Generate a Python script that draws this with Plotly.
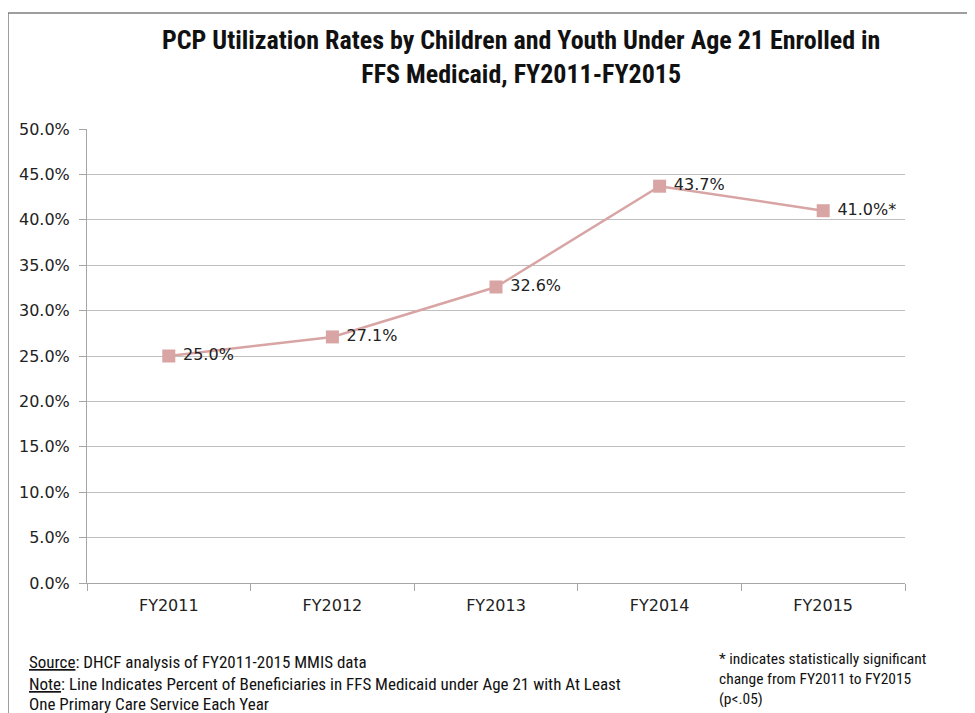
import plotly.graph_objects as go

categories = ["FY2011", "FY2012", "FY2013", "FY2014", "FY2015"]
rates = [25.0, 27.1, 32.6, 43.7, 41.0]
label_texts = ["25.0%", "27.1%", "32.6%", "43.7%", "41.0%*"]
y_ticks = [0, 5, 10, 15, 20, 25, 30, 35, 40, 45, 50]
y_tick_labels = [f"{v:.1f}%" for v in y_ticks]

OFF = 8  # page body offset
W, H = 975 - OFF, 713 - OFF
L, R, T, B = 87 - OFF, 905 - OFF, 129 - OFF, 583 - OFF

def px(x):
    return (x - OFF - L) / (R - L)

def py(y):
    return (B - (y - OFF)) / (B - T)

line_color = "#D8A4A4"
tick_font = dict(family="DejaVu Sans, Verdana", size=16, color="#222222")
narrow = "Liberation Sans Narrow, Arial Narrow, Roboto Condensed, Liberation Sans"

fig = go.Figure()
fig.add_trace(go.Scatter(
    x=categories, y=rates, mode="lines+markers+text",
    text=[" " + t for t in label_texts], textposition="middle right",
    textfont=dict(family="DejaVu Sans, Verdana", size=16, color="#222222"),
    line=dict(color=line_color, width=2.5),
    marker=dict(symbol="square", size=13, color=line_color),
    cliponaxis=False, showlegend=False,
))

fig.update_layout(
    width=W, height=H,
    margin=dict(l=L, r=W - R, t=T, b=H - B),
    paper_bgcolor="white", plot_bgcolor="white",
    xaxis=dict(
        type="category", range=[-0.5, 4.5], showgrid=False,
        showline=True, linecolor="#A6A6A6", linewidth=1,
        ticks="outside", ticklen=7, tickcolor="#A6A6A6",
        tickson="boundaries", tickfont=tick_font, ticklabelstandoff=8,
    ),
    yaxis=dict(
        range=[0, 50], tickvals=y_ticks, ticktext=y_tick_labels,
        showgrid=True, gridcolor="#BFBFBF", gridwidth=1,
        showline=True, linecolor="#A6A6A6", linewidth=1,
        ticks="outside", ticklen=7, tickcolor="#A6A6A6",
        tickfont=tick_font, zeroline=False, ticklabelstandoff=6,
    ),
    shapes=[dict(type="rect", xref="paper", yref="paper",
                 x0=px(8), x1=px(990), y0=py(13), y1=py(730),
                 line=dict(color="#7F7F7F", width=1.5), fillcolor="rgba(0,0,0,0)",
                 layer="below")],
    annotations=[
        dict(text="<b>PCP Utilization Rates by Children and Youth Under Age 21 Enrolled in<br>FFS Medicaid, FY2011-FY2015</b>",
             xref="paper", yref="paper", x=px(521), y=py(57), showarrow=False,
             xanchor="center", yanchor="middle", align="center",
             font=dict(family=narrow, size=26, color="#111111")),
        dict(text="<u>Source</u>: DHCF analysis of FY2011-2015 MMIS data",
             xref="paper", yref="paper", x=px(27), y=py(662), showarrow=False,
             xanchor="left", yanchor="middle", align="left",
             font=dict(family=narrow, size=17, color="#111111")),
        dict(text="<u>Note</u>: Line Indicates Percent of Beneficiaries in FFS Medicaid under Age 21 with At Least",
             xref="paper", yref="paper", x=px(27), y=py(684), showarrow=False,
             xanchor="left", yanchor="middle", align="left",
             font=dict(family=narrow, size=17, color="#111111")),
        dict(text="One Primary Care Service Each Year",
             xref="paper", yref="paper", x=px(27), y=py(704), showarrow=False,
             xanchor="left", yanchor="middle", align="left",
             font=dict(family=narrow, size=17, color="#111111")),
        dict(text="* indicates statistically significant<br>change from FY2011 to FY2015<br>(p<.05)",
             xref="paper", yref="paper", x=px(717), y=py(648), showarrow=False,
             xanchor="left", yanchor="top", align="left",
             font=dict(family=narrow, size=15.5, color="#111111")),
    ],
)

fig.write_html("out.html")
